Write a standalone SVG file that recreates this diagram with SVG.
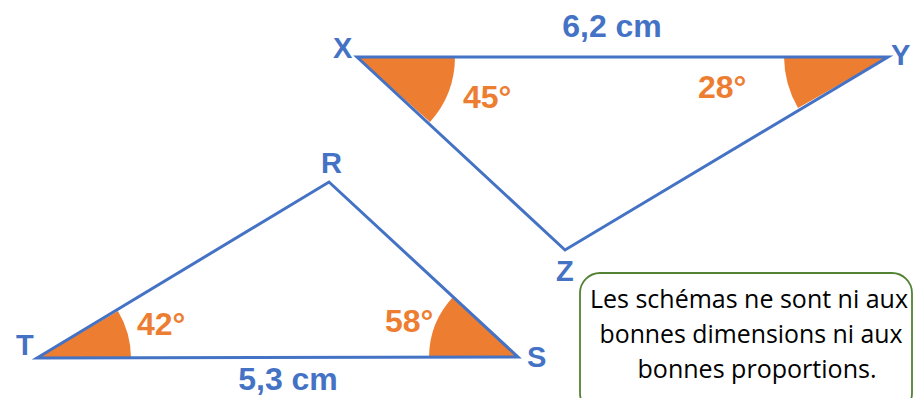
<svg xmlns="http://www.w3.org/2000/svg" width="915" height="398" viewBox="0 0 915 398">
<style>
.edge{fill:none;stroke:#4472C4;stroke-width:3;stroke-linejoin:miter}
.wedge{fill:#ED7D31;stroke:none}
.pt{font-family:"Liberation Sans",Arial,sans-serif;font-weight:bold;font-size:29px;fill:#4472C4}
.len{font-family:"Liberation Sans",Arial,sans-serif;font-weight:bold;font-size:32px;fill:#4472C4;text-anchor:middle}
.ang{font-family:"Liberation Sans",Arial,sans-serif;font-weight:bold;font-size:32px;fill:#ED7D31}
.note{font-family:"Open Sans","Liberation Sans",sans-serif;font-size:25px;fill:#000;text-anchor:middle}
</style>
<rect width="915" height="398" fill="#fff"/>
<g id="angles">
<path class="wedge" d="M357,57 L455,57 A98,98 0 0 1 430,122 Z"/>
<path class="wedge" d="M888,57 L784,57 A104,104 0 0 0 798,108 Z"/>
<path class="wedge" d="M37,358 L131,358 A94,94 0 0 0 118,311 Z"/>
<path class="wedge" d="M518,357 L429,357 A89,89 0 0 1 453,297 Z"/>
</g>
<g id="connectors">
<polygon class="edge" points="357,57 888,57 565,250"/>
<polygon class="edge" points="37,358 329,182 518,357"/>
</g>
<g id="triangle-XYZ">
<text class="pt" x="333" y="58">X</text>
<text class="pt" x="891" y="65">Y</text>
<text class="pt" x="556" y="281">Z</text>
<text class="len" x="612" y="37">6,2 cm</text>
<text class="ang" x="463" y="108">45°</text>
<text class="ang" x="698" y="98">28°</text>
</g>
<g id="triangle-RST">
<text class="pt" x="321" y="173">R</text>
<text class="pt" x="16" y="355">T</text>
<text class="pt" x="527" y="367">S</text>
<text class="len" x="288" y="390">5,3 cm</text>
<text class="ang" x="137" y="335">42°</text>
<text class="ang" x="385" y="332">58°</text>
</g>
<g id="note">
<rect x="580" y="273" width="332" height="140" rx="20" ry="20" fill="#fff" stroke="#548235" stroke-width="1.8"/>
<text class="note" x="749" y="308" textLength="318" lengthAdjust="spacingAndGlyphs">Les schémas ne sont ni aux</text>
<text class="note" x="751" y="343" textLength="303" lengthAdjust="spacingAndGlyphs">bonnes dimensions ni aux</text>
<text class="note" x="757" y="378" textLength="239" lengthAdjust="spacingAndGlyphs">bonnes proportions.</text>
</g>
</svg>
